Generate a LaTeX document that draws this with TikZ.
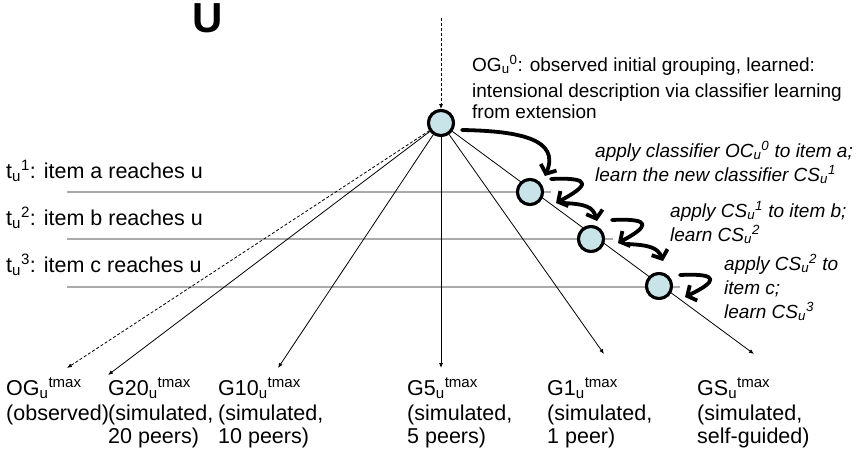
\documentclass[tikz,border=0pt]{standalone}
\usepackage{fontspec}
\setmainfont{Liberation Sans}
\usetikzlibrary{arrows.meta}
\definecolor{cyanpale}{RGB}{200,228,232}
\definecolor{gridgray}{RGB}{170,170,170}
\newcommand{\su}[1]{\textsubscript{u}\textsuperscript{#1}}
\begin{document}
\begin{tikzpicture}[x=1pt,y=-1pt,
  lbl/.style={font=\fontsize{21.5}{23}\selectfont, anchor=base west, align=left, inner sep=0pt},
  note/.style={font=\fontsize{19}{24}\selectfont\itshape, anchor=base west, align=left, inner sep=0pt},
  desc/.style={font=\fontsize{19}{21}\selectfont, anchor=base west, align=left, inner sep=0pt},
  grp/.style={circle, draw=black, line width=3pt, fill=cyanpale, minimum size=25pt, inner sep=0pt},
  gridline/.style={draw=gridgray, line width=1.3pt},
  fan/.style={draw=black, line width=0.8pt, -{Latex[length=5pt,width=4pt]}},
  curl/.style={line width=3.8pt, line cap=round, line join=round, -{Straight Barb[length=7pt,width=17pt]}}
]
\useasboundingbox (0,0) rectangle (857,466);

% coordinates
\coordinate (g1l) at (67,192); \coordinate (g1r) at (551,192);
\coordinate (g2l) at (67,239); \coordinate (g2r) at (613,239);
\coordinate (g3l) at (67,287); \coordinate (g3r) at (680,287);
\coordinate (e0) at (67,368);
\coordinate (e1) at (108,375);
\coordinate (e2) at (278,368);
\coordinate (e3) at (441,368);
\coordinate (e4) at (604,354);
\coordinate (e5) at (754,354);
\coordinate (top) at (441,18);

% grid lines
\draw[gridline] (g1l) -- (g1r);
\draw[gridline] (g2l) -- (g2r);
\draw[gridline] (g3l) -- (g3r);

% group nodes (placed first for naming)
\node[grp] (n0) at (441,123) {};
\node[grp] (n1) at (530,192) {};
\node[grp] (n2) at (591,239) {};
\node[grp] (n3) at (659,286) {};

% fan lines
\draw[fan, dash pattern=on 3pt off 2pt] (n0) -- (e0);
\draw[fan] (n0) -- (e1);
\draw[fan] (n0) -- (e2);
\draw[fan] (n0) -- (e3);
\draw[fan] (n0) -- (e4);
\draw[fan] (n0) -- (e5);
\draw[fan, dash pattern=on 3pt off 2pt] (top) -- (n0);

% redraw nodes on top of fan lines
\node[grp] at (n0) {};
\node[grp] at (n1) {};
\node[grp] at (n2) {};
\node[grp] at (n3) {};

% curly arrows
\draw[curl] (462,130) .. controls (522,131) and (560,140) .. (545,176);
\draw[curl] (551,179) .. controls (594,177) and (588,186) .. (556,203);
\draw[curl] (563,203) .. controls (586,204) and (593,207) .. (597,221);
\draw[curl] (612,220) .. controls (654,218) and (648,227) .. (618,243);
\draw[curl] (627,244) .. controls (650,245) and (658,248) .. (663,261);
\draw[curl] (680,275) .. controls (722,273) and (716,282) .. (685,297);

% title
\node[font=\fontsize{42}{42}\selectfont\bfseries, inner sep=0pt] (U) at (208,18) {U};

% description (anchor = baseline of last line)
\node[desc] (og0) at (472,118) {OG\su{0}: observed initial grouping, learned:\\[5pt]intensional description via classifier learning\\from extension};

% notes
\node[note] (a1) at (595,181) {apply classifier OC\su{0} to item a;\\learn the new classifier CS\su{1}};
\node[note] (a2) at (670,241) {apply CS\su{1} to item b;\\learn CS\su{2}};
\node[note] (a3) at (724,318) {apply CS\su{2} to\\item c;\\learn CS\su{3}};

% time labels
\node[lbl] (t1) at (6,178) {t\su{1}: item a reaches u};
\node[lbl] (t2) at (6,225) {t\su{2}: item b reaches u};
\node[lbl] (t3) at (6,272) {t\su{3}: item c reaches u};

% bottom labels
\node[lbl] (b0) at (6,420) {OG\su{tmax}\\[2pt](observed)};
\node[lbl] (b1) at (108,443) {G20\su{tmax}\\[2pt](simulated,\\20 peers)};
\node[lbl] (b2) at (218,443) {G10\su{tmax}\\[2pt](simulated,\\10 peers)};
\node[lbl] (b3) at (407,443) {G5\su{tmax}\\[2pt](simulated,\\5 peers)};
\node[lbl] (b4) at (547,443) {G1\su{tmax}\\[2pt](simulated,\\1 peer)};
\node[lbl] (b5) at (697,443) {GS\su{tmax}\\[2pt](simulated,\\self-guided)};
\end{tikzpicture}
\end{document}
